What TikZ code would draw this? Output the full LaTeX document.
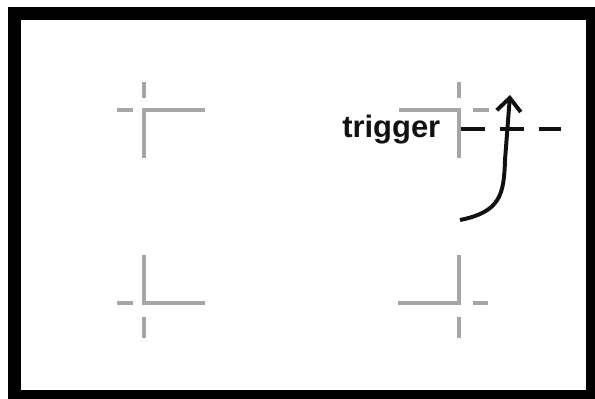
\documentclass[tikz,border=0pt]{standalone}
\usepackage{xcolor}
\usepackage{fontspec}
\setmainfont{Liberation Sans}
\usepackage{tikz}
\usetikzlibrary{arrows.meta, calc, positioning}
\definecolor{MarkGrey}{HTML}{A6A6A6}
\definecolor{InkBlack}{HTML}{111111}

\begin{document}
\begin{tikzpicture}[
    cropmark/.style={MarkGrey, line width=2.5pt, line cap=butt},
    cropcorner/.style={MarkGrey, line width=2.5pt, line join=miter},
    triggerline/.style={InkBlack, line width=3pt, dash pattern=on 0.6cm off 0.375cm},
    flowarrow/.style={InkBlack, line width=2.8pt,
      -{Straight Barb[length=0.33cm, width=0.6cm, line width=2.8pt]}}]
  % Page frame: 14.875 x 9.95 cm, thick black border partly cut by the page edge.
  \useasboundingbox (0,0) rectangle (14.875,-9.95);
  \fill[white] (0,0) rectangle (14.875,-9.95);
  \draw[black, line width=0.325cm, line join=miter] (0.35,-0.325) rectangle (14.8125,-9.9125);
  % Top-left mark
  \draw[cropcorner] (5.125,-2.75) -- (3.6,-2.75) -- (3.6,-3.95);
  \draw[cropmark] (2.925,-2.75) -- (3.325,-2.75);
  \draw[cropmark] (3.6,-2.05) -- (3.6,-2.45);
  % Top-right mark
  \draw[cropcorner] (9.975,-2.75) -- (11.475,-2.75) -- (11.475,-3.95);
  \draw[cropmark] (11.825,-2.75) -- (12.225,-2.75);
  \draw[cropmark] (11.475,-2.05) -- (11.475,-2.45);
  % Bottom-left mark
  \draw[cropcorner] (3.6,-6.375) -- (3.6,-7.575) -- (5.125,-7.575);
  \draw[cropmark] (2.925,-7.575) -- (3.325,-7.575);
  \draw[cropmark] (3.6,-7.925) -- (3.6,-8.45);
  % Bottom-right mark
  \draw[cropcorner] (11.475,-6.375) -- (11.475,-7.575) -- (9.95,-7.575);
  \draw[cropmark] (11.825,-7.575) -- (12.2,-7.575);
  \draw[cropmark] (11.475,-7.925) -- (11.475,-8.45);
  % Trigger label with its dashed line
  \node[inner sep=0pt, anchor=base west, text=InkBlack,
        font=\fontsize{22}{26}\selectfont\bfseries] (trigger) at (8.55,-3.425) {trigger};
  \coordinate (dashend) at (14.025,-3.225);
  \draw[triggerline, shorten <=0.5cm] (trigger.east |- dashend) -- (dashend);
  % Curved arrow rising through the line
  \coordinate (curvestart) at (11.5,-5.5);
  \coordinate (curvetip) at (12.75,-2.375);
  \draw[flowarrow] (curvestart) .. controls (12.5,-5.3) and (12.6,-4.875) .. (12.625,-4.0) -- (curvetip);
\end{tikzpicture}
\end{document}
